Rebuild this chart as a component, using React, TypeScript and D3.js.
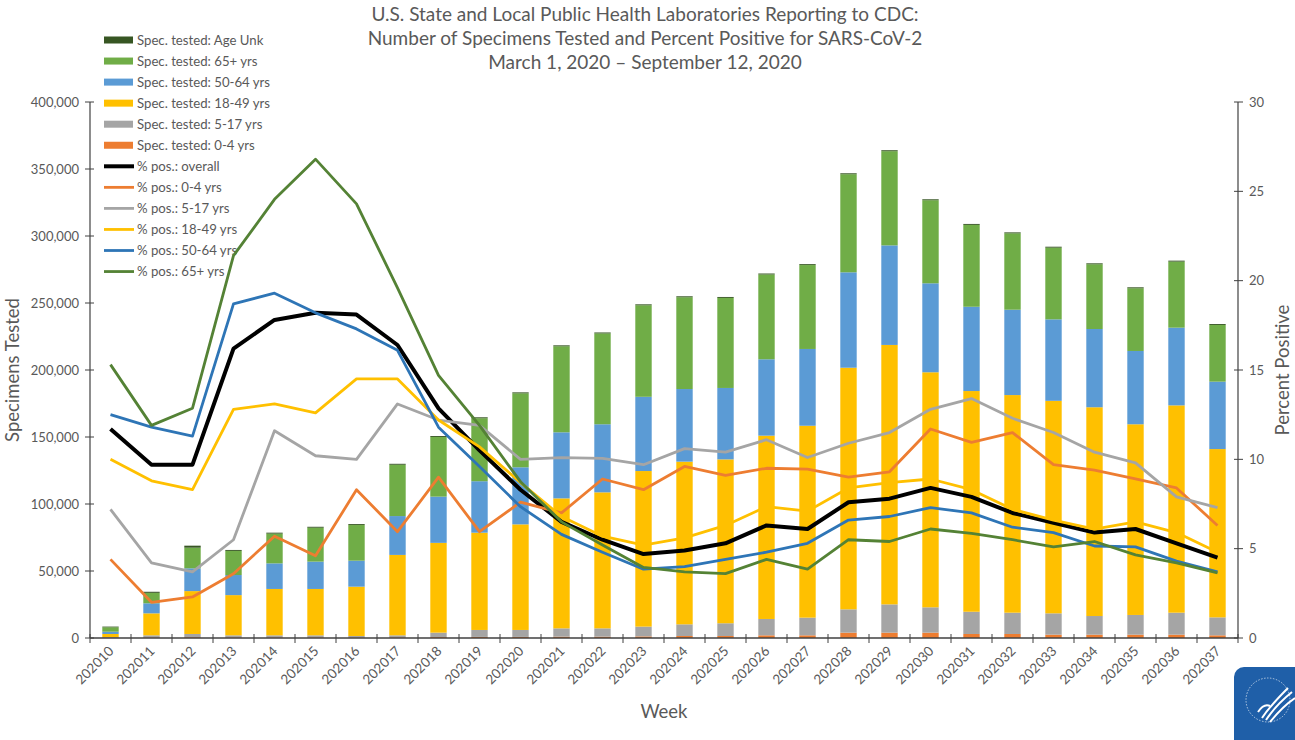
import React from 'react';
import * as d3 from 'd3';

const weeks = ['202010','202011','202012','202013','202014','202015','202016','202017','202018','202019','202020','202021','202022','202023','202024','202025','202026','202027','202028','202029','202030','202031','202032','202033','202034','202035','202036','202037'];

const spec04 = [200,500,600,500,500,500,400,500,700,800,800,1000,1000,1200,1500,1500,2000,2000,4000,4000,4000,3000,3000,2500,2500,2500,2500,2000];
const spec517 = [500,1500,2400,1500,1500,1500,1100,1500,3300,5200,5200,6200,6200,7300,8700,9500,12200,13200,17400,21100,18900,16600,15900,15900,13900,14700,16400,13400];
const spec1849 = [2300,16400,32000,30000,34600,34600,36800,60000,67000,72600,78800,97000,101500,116100,121400,122300,136800,143200,180300,193600,175400,164700,162400,158600,155800,142300,154700,125600];
const spec5064 = [1700,7500,17000,15000,19100,20400,19400,29000,34500,38400,42600,49300,50800,55400,54200,53300,57000,57300,71200,74300,66400,62900,63700,60800,58400,54700,58000,50300];
const spec65 = [3300,7800,15400,18000,22200,25300,26600,38300,44500,47000,55200,64200,67800,68300,68500,67200,63300,62600,73200,70300,62000,61100,57000,53500,48300,46800,49300,42300];
const specUnk = [500,800,1500,700,700,700,700,700,700,700,700,700,700,700,700,700,700,700,700,700,700,700,700,700,700,700,700,700];

const posOverall = [11.7,9.7,9.7,16.2,17.8,18.2,18.1,16.4,12.85,10.5,8.3,6.5,5.5,4.7,4.9,5.3,6.3,6.1,7.6,7.8,8.4,7.9,7.0,6.45,5.9,6.1,5.3,4.5];
const pos04 = [4.4,2.0,2.3,3.6,5.7,4.6,8.3,5.95,9.0,5.95,7.6,7.0,8.9,8.3,9.6,9.1,9.5,9.45,9.0,9.3,11.7,10.95,11.5,9.7,9.4,8.9,8.4,6.3];
const pos517 = [7.2,4.2,3.7,5.5,11.6,10.2,10.0,13.1,12.2,11.9,10.0,10.1,10.05,9.7,10.6,10.4,11.1,10.1,10.9,11.5,12.8,13.4,12.3,11.5,10.4,9.8,7.9,7.3];
const pos1849 = [10.0,8.8,8.3,12.8,13.1,12.6,14.5,14.5,12.2,10.7,8.7,6.8,5.7,5.2,5.6,6.3,7.35,7.1,8.4,8.7,8.9,8.3,7.2,6.6,6.1,6.5,5.9,4.8];
const pos5064 = [12.5,11.8,11.3,18.7,19.3,18.2,17.3,16.1,11.8,9.6,7.35,5.8,4.8,3.85,4.0,4.4,4.8,5.3,6.6,6.8,7.3,7.0,6.2,5.9,5.15,5.1,4.3,3.7];
const pos65 = [15.3,11.9,12.86,21.4,24.55,26.8,24.3,19.6,14.7,11.9,8.75,6.5,5.2,3.95,3.7,3.6,4.4,3.85,5.5,5.4,6.1,5.85,5.5,5.1,5.4,4.65,4.2,3.65];

const leftTicks = [0,50000,100000,150000,200000,250000,300000,350000,400000];
const rightTicks = [0,5,10,15,20,25,30];

const titleLines = [
  'U.S. State and Local Public Health Laboratories Reporting to CDC:',
  'Number of Specimens Tested and Percent Positive for SARS-CoV-2',
  'March 1, 2020 \u2013 September 12, 2020',
];

const barSeries = [
  { name: 'Spec. tested: 0-4 yrs', values: spec04, color: '#ED7D31' },
  { name: 'Spec. tested: 5-17 yrs', values: spec517, color: '#A5A5A5' },
  { name: 'Spec. tested: 18-49 yrs', values: spec1849, color: '#FFC000' },
  { name: 'Spec. tested: 50-64 yrs', values: spec5064, color: '#5B9BD5' },
  { name: 'Spec. tested: 65+ yrs', values: spec65, color: '#70AD47' },
  { name: 'Spec. tested: Age Unk', values: specUnk, color: '#375623' },
];

const lineSeries = [
  { name: '% pos.: overall', values: posOverall, color: '#000000', width: 4 },
  { name: '% pos.: 0-4 yrs', values: pos04, color: '#ED7D31', width: 2.8 },
  { name: '% pos.: 5-17 yrs', values: pos517, color: '#A5A5A5', width: 2.8 },
  { name: '% pos.: 18-49 yrs', values: pos1849, color: '#FFC000', width: 2.8 },
  { name: '% pos.: 50-64 yrs', values: pos5064, color: '#2E75B6', width: 2.8 },
  { name: '% pos.: 65+ yrs', values: pos65, color: '#548235', width: 2.8 },
];

const W = 1295, H = 740;
const left = 90, right = 1238, top = 102, bottom = 638;
const FONT = 'Lato, "Open Sans", sans-serif';
const TXT = '#595959';
const AX = '#404040';

export default function App() {
  const x = d3.scaleBand<string>().domain(weeks).range([left, right]).paddingInner(0.6).paddingOuter(0.3);
  const xc = (i: number) => (x(weeks[i]) as number) + x.bandwidth() / 2;
  const yL = d3.scaleLinear().domain([0, 400000]).range([bottom, top]);
  const yR = d3.scaleLinear().domain([0, 30]).range([bottom, top]);
  const step = (right - left) / weeks.length;
  const bw = x.bandwidth();

  const stackData = weeks.map((w, i) => {
    const o: any = { week: w };
    barSeries.forEach((s) => { o[s.name] = s.values[i]; });
    return o;
  });
  const stacked = d3.stack<any>().keys(barSeries.map((s) => s.name))(stackData);

  const lineGen = (vals: number[]) =>
    d3.line<number>().x((_, i) => xc(i)).y((v) => yR(v))(vals) as string;

  const legendItems = [
    ...barSeries.slice().reverse().map((s) => ({ name: s.name, color: s.color, type: 'bar' as const, width: 0 })),
    ...lineSeries.map((s) => ({ name: s.name, color: s.color, type: 'line' as const, width: s.width })),
  ];

  return (
    <svg width={W} height={H} style={{ position: 'absolute', left: 0, top: 0, background: '#fff' }} fontFamily={FONT}>
      <rect x={0} y={0} width={W} height={H} fill="#fff" />
      {/* Title */}
      {titleLines.map((t, i) => (
        <text key={i} x={645} y={21 + i * 24} textAnchor="middle" fontSize={19} fill={TXT}>{t}</text>
      ))}

      {/* Bars */}
      {stacked.map((layer, li) => (
        <g key={li} fill={barSeries[li].color}>
          {layer.map((d, i) => (
            <rect key={i} x={x(weeks[i]) as number} y={yL(d[1])} width={bw} height={Math.max(0, yL(d[0]) - yL(d[1]))} />
          ))}
        </g>
      ))}

      {/* Axes */}
      <line x1={left} x2={left} y1={top} y2={bottom} stroke={AX} strokeWidth={1.2} />
      <line x1={right} x2={right} y1={top} y2={bottom} stroke={AX} strokeWidth={1.2} />
      <line x1={left} x2={right} y1={bottom} y2={bottom} stroke={AX} strokeWidth={1.5} />
      {leftTicks.map((t) => (
        <g key={t}>
          <line x1={left - 5} x2={left + 4} y1={yL(t)} y2={yL(t)} stroke={AX} strokeWidth={1} />
          <text x={left - 11} y={yL(t) + 4.5} textAnchor="end" fontSize={13} fill={TXT}>{d3.format(',')(t)}</text>
        </g>
      ))}
      {rightTicks.map((t) => (
        <g key={t}>
          <line x1={right - 4} x2={right + 5} y1={yR(t)} y2={yR(t)} stroke={AX} strokeWidth={1} />
          <text x={right + 11} y={yR(t) + 4.5} textAnchor="start" fontSize={13} fill={TXT}>{t}</text>
        </g>
      ))}
      {d3.range(weeks.length + 1).map((i) => (
        <line key={i} x1={left + i * step} x2={left + i * step} y1={bottom - 4} y2={bottom + 5} stroke={AX} strokeWidth={1} />
      ))}
      {weeks.map((w, i) => (
        <text key={w} transform={`translate(${xc(i) + 4},${bottom + 14}) rotate(-45)`} textAnchor="end" fontSize={13.5} fill={TXT}>{w}</text>
      ))}

      {/* Axis titles */}
      <text transform={`translate(19,370) rotate(-90)`} textAnchor="middle" fontSize={18.5} fill={TXT}>Specimens Tested</text>
      <text transform={`translate(1289,370) rotate(-90)`} textAnchor="middle" fontSize={18.5} fill={TXT}>Percent Positive</text>
      <text x={664} y={718} textAnchor="middle" fontSize={18.5} fill={TXT}>Week</text>

      {/* Legend */}
      {legendItems.map((it, i) => {
        const ly = 40 + i * 21.05;
        return (
          <g key={it.name}>
            {it.type === 'bar' ? (
              <rect x={104} y={ly - 3.5} width={29} height={7} fill={it.color} />
            ) : (
              <line x1={104} x2={134} y1={ly} y2={ly} stroke={it.color} strokeWidth={it.width} />
            )}
            <text x={137} y={ly + 4.5} fontSize={13.2} fill={TXT}>{it.name}</text>
          </g>
        );
      })}

      {/* Lines */}
      {lineSeries.map((s) => (
        <path key={s.name} d={lineGen(s.values)} fill="none" stroke={s.color} strokeWidth={s.width} strokeLinejoin="round" />
      ))}

      {/* Logo */}
      <g>
        <rect x={1234} y={667} width={80} height={85} rx={10} fill="#1F5FA8" />
        <circle cx={1268} cy={700} r={22} fill="none" stroke="#fff" strokeWidth={0.8} strokeDasharray="1.5 1.5" opacity={0.8} />
        <path d="M1262,718 C1270,706 1278,698 1288,688" stroke="#fff" strokeWidth={2} fill="none" />
        <path d="M1266,720 C1274,708 1282,700 1292,692" stroke="#fff" strokeWidth={2} fill="none" />
        <path d="M1270,722 C1278,712 1286,704 1295,698" stroke="#fff" strokeWidth={2} fill="none" />
        <path d="M1258,712 C1262,706 1266,704 1270,706" stroke="#fff" strokeWidth={2} fill="none" />
      </g>
    </svg>
  );
}
